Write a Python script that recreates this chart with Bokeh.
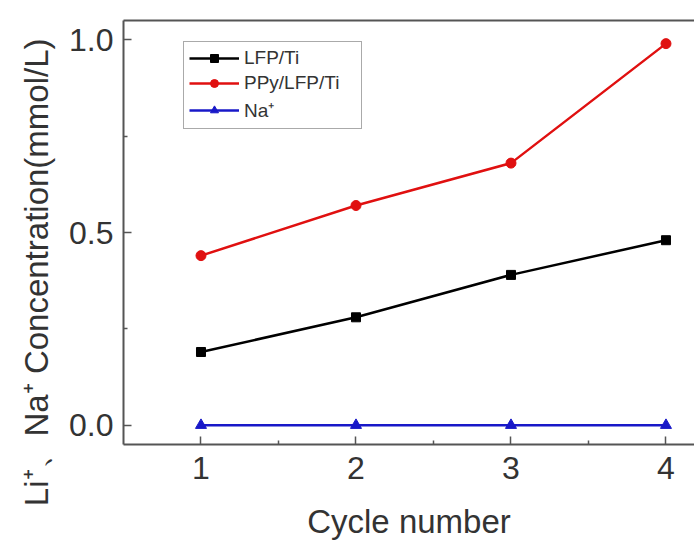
from bokeh.plotting import figure
from bokeh.models import Range1d, LinearAxis, FixedTicker, Legend, LegendItem, Title
from bokeh.models import NumeralTickFormatter
from bokeh.embed import file_html
from bokeh.resources import INLINE

# Ion concentration per cycle
cycles = [1, 2, 3, 4]
lfp_ti = [0.19, 0.28, 0.39, 0.48]
ppy_lfp_ti = [0.44, 0.57, 0.68, 0.99]
na_plus = [0.0, 0.0, 0.0, 0.0]

x_ticks = [1, 2, 3, 4]
y_ticks = [0.0, 0.5, 1.0]

FONT = "Liberation Sans"
AXIS_COLOR = "#555555"
TEXT_COLOR = "#333333"
RED = "#e01010"
BLUE = "#1818c8"

p = figure(width=694, height=542, output_backend="svg", toolbar_location=None,
           x_range=Range1d(0.5, 4.184), y_range=Range1d(-0.05, 1.05),
           min_border_left=123, min_border_top=20, min_border_bottom=97,
           min_border_right=0)
p.grid.visible = False
p.outline_line_color = None
p.background_fill_color = "white"
p.border_fill_color = "white"

def style_axis(ax):
    ax.axis_line_color = AXIS_COLOR
    ax.axis_line_width = 2
    ax.major_tick_line_color = AXIS_COLOR
    ax.minor_tick_line_color = AXIS_COLOR
    ax.major_tick_line_width = 1.5
    ax.minor_tick_line_width = 1.5
    ax.major_tick_in = 8
    ax.major_tick_out = 0
    ax.minor_tick_in = 4
    ax.minor_tick_out = 0
    ax.major_label_text_font = FONT
    ax.major_label_text_font_size = "32px"
    ax.major_label_text_color = TEXT_COLOR
    ax.axis_label_text_font = FONT
    ax.axis_label_text_font_style = "normal"
    ax.axis_label_text_color = TEXT_COLOR

xa = p.xaxis[0]
style_axis(xa)
xa.ticker = FixedTicker(ticks=x_ticks, minor_ticks=[1.5, 2.5, 3.5])
xa.major_label_standoff = 12
xa.axis_label = "Cycle number"
xa.axis_label_text_font_size = "33px"
xa.axis_label_standoff = 21

ya = p.yaxis[0]
style_axis(ya)
ya.ticker = FixedTicker(ticks=y_ticks, minor_ticks=[0.25, 0.75])
ya.formatter = NumeralTickFormatter(format="0.0")
ya.major_label_standoff = 10

# y-axis title, anchored near the top of the frame
y_title = Title(text="Li\u207a\u3001Na\u207a Concentration(mmol/L)",
                align="right", offset=18, standoff=24,
                text_font=FONT, text_font_size="33px",
                text_font_style="normal", text_color=TEXT_COLOR)
p.add_layout(y_title, "left")

# top frame edge
top = LinearAxis(axis_line_color=AXIS_COLOR, axis_line_width=2,
                 major_tick_line_color=None, minor_tick_line_color=None,
                 major_label_text_font_size="0px", major_label_standoff=0)
top.ticker = FixedTicker(ticks=[])
p.add_layout(top, "above")

l1 = p.line(cycles, lfp_ti, line_color="black", line_width=2.5)
m1 = p.scatter(cycles, lfp_ti, marker="square", size=9, color="black")
l2 = p.line(cycles, ppy_lfp_ti, line_color=RED, line_width=2.5)
m2 = p.scatter(cycles, ppy_lfp_ti, marker="circle", size=10, color=RED)
l3 = p.line(cycles, na_plus, line_color=BLUE, line_width=2.5)
m3 = p.scatter(cycles, na_plus, marker="triangle", size=11, color=BLUE)

legend = Legend(items=[
    LegendItem(label="LFP/Ti", renderers=[l1, m1]),
    LegendItem(label="PPy/LFP/Ti", renderers=[l2, m2]),
    LegendItem(label="Na\u207a", renderers=[l3, m3]),
], location=(60, 315))
legend.label_text_font = FONT
legend.label_text_font_size = "19px"
legend.label_text_color = TEXT_COLOR
legend.glyph_width = 50
legend.glyph_height = 20
legend.label_height = 20
legend.label_width = 112
legend.spacing = 3
legend.padding = 5
legend.margin = 0
legend.label_standoff = 5
legend.border_line_color = AXIS_COLOR
legend.border_line_width = 1.5
legend.background_fill_alpha = 1
p.add_layout(legend, "center")

open("out.html", "w").write(file_html(p, INLINE))
